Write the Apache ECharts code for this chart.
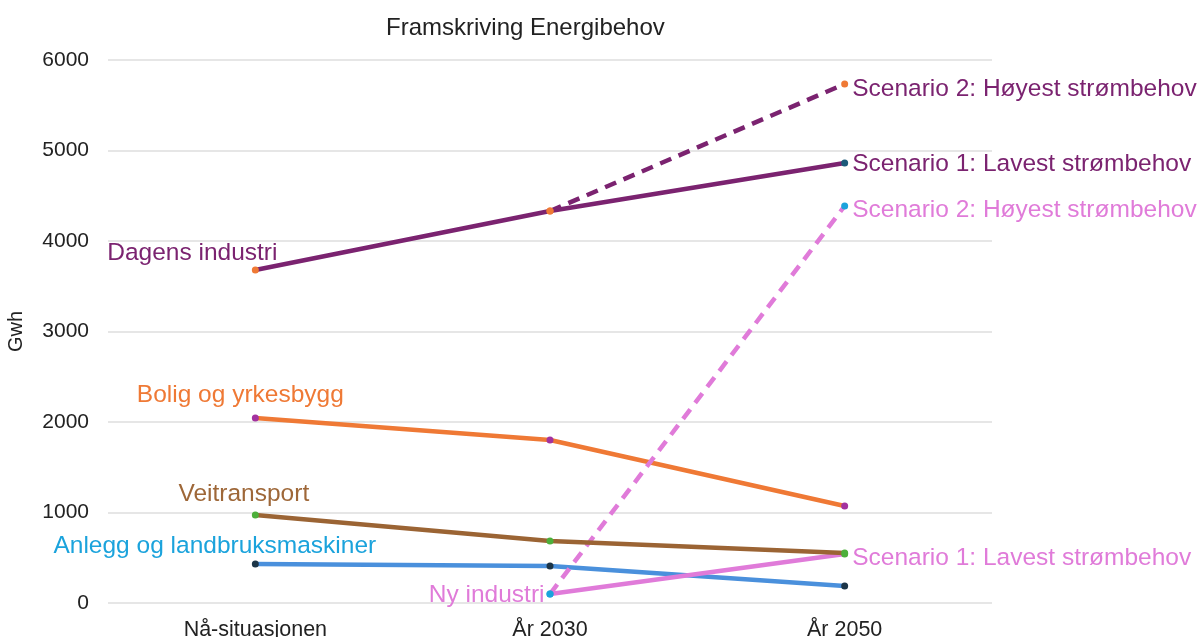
<!DOCTYPE html>
<html>
<head>
<meta charset="utf-8">
<script src="https://cdn.jsdelivr.net/npm/echarts@6/dist/echarts.min.js"></script>
<style>
  html, body { margin: 0; padding: 0; background: #fff; }
  #chart { width: 1204px; height: 637px; }
</style>
</head>
<body>
<div id="chart"></div>
<script>
// Data (GWh)
const categories = ['Nå-situasjonen', 'År 2030', 'År 2050']
const dagensS1 = [3680, 4331, 4862]
const dagensS2 = [null, 4331, 5735]
const bolig = [2044, 1801, 1072]
const veitransport = [972, 685, 552]
const anlegg = [431, 409, 188]
const nyS1 = [null, 99, 541]
const nyS2 = [null, 99, 4387]

const FONT = 'Liberation Sans, Arial, sans-serif'
const C = {
  purple: '#7b2370',
  orange: '#ef7935',
  brown: '#9b6434',
  blue: '#4a90dc',
  pink: '#e07bd9',
  magenta: '#a3329f',
  green: '#4caf3a',
  navy: '#1c3548',
  teal: '#1c5a7a',
  cyan: '#1ba3dc'
}

// build point items: marker colours + optional label per point
const points = (values, markerColors, labels) =>
  values.map((v, i) => {
    if (v === null) return null
    const item = { value: v, itemStyle: { color: markerColors[i] } }
    if (labels && labels[i]) item.label = Object.assign({ show: true }, labels[i])
    return item
  })

const lbl = (text, color, extra) => Object.assign({
  formatter: text, color: color, fontSize: 24.5, fontFamily: FONT
}, extra)

const lineSeries = (name, data, color, dashed, z) => ({
  name: name,
  type: 'line',
  data: data,
  symbol: 'circle',
  symbolSize: 7,
  showSymbol: true,
  z: z || 2,
  connectNulls: false,
  lineStyle: { color: color, width: 4.5, type: dashed ? [12, 8] : 'solid' },
  label: { show: false },
  emphasis: { disabled: true }
})

const chart = echarts.init(document.getElementById('chart'))
chart.setOption({
  animation: false,
  title: {
    text: 'Framskriving Energibehov',
    left: 381,
    top: 11,
    textStyle: { fontSize: 24, fontWeight: 'normal', color: '#222', fontFamily: FONT }
  },
  grid: { left: 108, right: 212, top: 60, bottom: 34, outerBoundsMode: 'none', containLabel: false },
  xAxis: {
    type: 'category',
    data: categories,
    boundaryGap: true,
    axisLine: { show: false },
    axisTick: { show: false },
    axisLabel: { color: '#222', fontSize: 21.5, fontFamily: FONT, margin: 16 }
  },
  yAxis: {
    type: 'value',
    min: 0,
    max: 6000,
    interval: 1000,
    name: 'Gwh',
    nameLocation: 'middle',
    nameRotate: 90,
    nameGap: 82,
    nameTextStyle: { color: '#222', fontSize: 20, fontFamily: FONT },
    axisLine: { show: false },
    axisTick: { show: false },
    axisLabel: { color: '#222', fontSize: 21, fontFamily: FONT, margin: 19, formatter: v => String(v) },
    splitLine: { lineStyle: { color: '#dedede', width: 1.5 } }
  },
  series: [
    lineSeries('Dagens industri S1', points(dagensS1, [C.orange, C.orange, C.teal], [
      lbl('Dagens industri', C.purple, { position: 'top', distance: 1, offset: [-63, 0] }),
      null,
      lbl('Scenario 1: Lavest strømbehov', C.purple, { position: 'right', distance: 4, offset: [0, 1] })
    ]), C.purple, false, 3),
    lineSeries('Dagens industri S2', points(dagensS2, [null, C.orange, C.orange], [
      null, null,
      lbl('Scenario 2: Høyest strømbehov', C.purple, { position: 'right', distance: 4, offset: [0, 5] })
    ]), C.purple, true, 3),
    lineSeries('Bolig og yrkesbygg', points(bolig, [C.magenta, C.magenta, C.magenta], [
      lbl('Bolig og yrkesbygg', C.orange, { position: 'top', distance: 7, offset: [-15, 0] })
    ]), C.orange, false),
    lineSeries('Veitransport', points(veitransport, [C.green, C.green, C.green], [
      lbl('Veitransport', '#9e6738', { position: 'top', distance: 5, offset: [-11.5, 0] })
    ]), C.brown, false, 4),
    lineSeries('Anlegg og landbruksmaskiner', points(anlegg, [C.navy, C.navy, C.navy], [
      lbl('Anlegg og landbruksmaskiner', C.cyan, { position: 'top', distance: 2, offset: [-40.5, 0] })
    ]), C.blue, false),
    lineSeries('Ny industri S1', points(nyS1, [null, C.cyan, C.green], [
      null,
      lbl('Ny industri', C.pink, { position: 'left', distance: 2, offset: [0, 1] }),
      lbl('Scenario 1: Lavest strømbehov', C.pink, { position: 'right', distance: 4, offset: [0, 4] })
    ]), C.pink, false, 3),
    lineSeries('Ny industri S2', points(nyS2, [null, C.cyan, C.cyan], [
      null, null,
      lbl('Scenario 2: Høyest strømbehov', C.pink, { position: 'right', distance: 4, offset: [0, 4.5] })
    ]), C.pink, true, 3)
  ]
})
</script>
</body>
</html>
